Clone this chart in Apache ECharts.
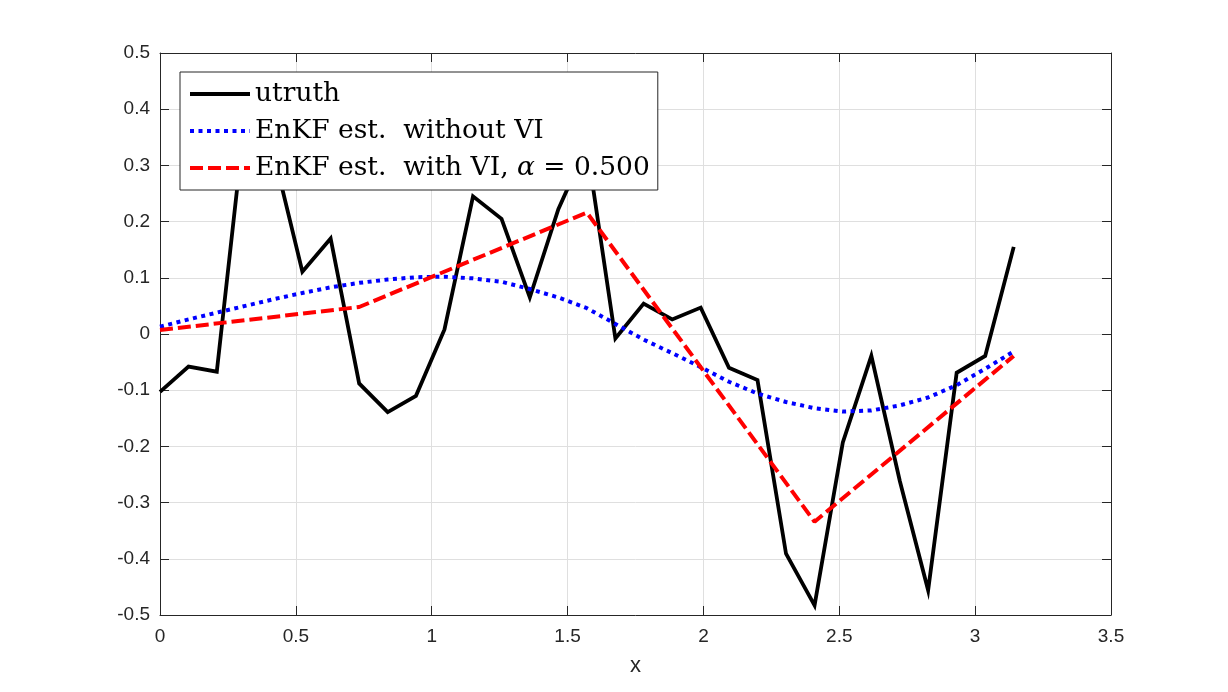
<!DOCTYPE html>
<html>
<head>
<meta charset="utf-8">
<script src="https://cdn.jsdelivr.net/npm/echarts@6/dist/echarts.min.js"></script>
<style>
html,body{margin:0;padding:0;background:#fff;}
#chart{width:1228px;height:692px;}
</style>
</head>
<body>
<div id="chart"></div>
<script>
// x grid (k*pi/30)
const xs = [0,0.105,0.209,0.314,0.419,0.524,0.628,0.733,0.838,0.942,1.047,1.152,1.257,1.361,1.466,1.571,1.676,1.780,1.885,1.990,2.094,2.199,2.304,2.409,2.513,2.618,2.723,2.827,2.932,3.037,3.142];
const utruth = [-0.103,-0.058,-0.067,0.39,0.32,0.111,0.170,-0.088,-0.139,-0.110,0.008,0.245,0.205,0.065,0.222,0.335,-0.008,0.054,0.026,0.047,-0.060,-0.082,-0.391,-0.483,-0.193,-0.039,-0.262,-0.456,-0.069,-0.039,0.155];
const enkfNoVI = [0.013,0.026,0.038,0.050,0.062,0.073,0.083,0.091,0.097,0.101,0.102,0.099,0.093,0.080,0.065,0.046,0.018,-0.010,-0.034,-0.059,-0.085,-0.106,-0.121,-0.132,-0.138,-0.136,-0.127,-0.113,-0.091,-0.062,-0.031];
const enkfVIx = [0,0.733,1.571,2.409,3.142];
const enkfVI = [0.007,0.048,0.216,-0.334,-0.039];
const seriesNames = ['utruth','EnKF est. without VI','EnKF est. with VI, α = 0.500'];
const xTicks = {min:0, max:3.5, interval:0.5};
const yTicks = {min:-0.5, max:0.5, interval:0.1};

const pair = (a,b)=>a.map((v,i)=>[v,b[i]]);
const axisColor = '#262626';
const tickFont = {color:axisColor, fontFamily:'Liberation Sans, Arial, Helvetica', fontSize:19};
const fmt = v => String(Math.round(v*10)/10);

const chart = echarts.init(document.getElementById('chart'), null, {renderer:'canvas'});
chart.setOption({
  backgroundColor:'#fff',
  animation:false,
  grid:{left:160, right:117, top:53, bottom:77, containLabel:false},
  xAxis:[
    {type:'value', min:xTicks.min, max:xTicks.max, interval:xTicks.interval, position:'bottom',
     name:'x', nameLocation:'middle', nameGap:40,
     nameTextStyle:{color:axisColor, fontFamily:'Liberation Sans, Arial', fontSize:22},
     axisLine:{show:true, onZero:false, lineStyle:{color:axisColor, width:1}},
     axisTick:{show:true, inside:true, length:9, lineStyle:{color:axisColor}},
     axisLabel:Object.assign({margin:12, formatter:fmt}, tickFont),
     splitLine:{show:true, lineStyle:{color:'#dfdfdf', width:1}}},
    {type:'value', min:xTicks.min, max:xTicks.max, interval:xTicks.interval, position:'top',
     axisLine:{show:true, onZero:false, lineStyle:{color:axisColor, width:1}},
     axisTick:{show:true, inside:true, length:9, lineStyle:{color:axisColor}},
     axisLabel:{show:false}, splitLine:{show:false}}
  ],
  yAxis:[
    {type:'value', min:yTicks.min, max:yTicks.max, interval:yTicks.interval, position:'left',
     axisLine:{show:true, onZero:false, lineStyle:{color:axisColor, width:1}},
     axisTick:{show:true, inside:true, length:9, lineStyle:{color:axisColor}},
     axisLabel:Object.assign({margin:10, formatter:fmt}, tickFont),
     splitLine:{show:true, lineStyle:{color:'#dfdfdf', width:1}}},
    {type:'value', min:yTicks.min, max:yTicks.max, interval:yTicks.interval, position:'right',
     axisLine:{show:true, onZero:false, lineStyle:{color:axisColor, width:1}},
     axisTick:{show:true, inside:true, length:9, lineStyle:{color:axisColor}},
     axisLabel:{show:false}, splitLine:{show:false}}
  ],
  legend:{
    orient:'vertical', left:180, top:72,
    padding:[7,8,7,8], itemGap:7, itemWidth:60, itemHeight:14,
    itemStyle:{opacity:0},
    lineStyle:{width:4},
    backgroundColor:'#fff', borderColor:'#262626', borderWidth:1,
    data:seriesNames,
    formatter:function(name){
      if(name===seriesNames[2]) return '{n|EnKF est.  with VI, }{i|α}{n| = 0.500}';
      if(name===seriesNames[1]) return '{n|EnKF est.  without VI}';
      return '{n|'+name+'}';
    },
    textStyle:{
      color:'#000', fontFamily:'DejaVu Serif', fontSize:26.5, lineHeight:30,
      rich:{
        n:{fontFamily:'DejaVu Serif', fontSize:26.5, lineHeight:30, color:'#000'},
        i:{fontFamily:'DejaVu Serif', fontSize:26.5, lineHeight:30, fontStyle:'italic', color:'#000'}
      }
    }
  },
  series:[
    {name:seriesNames[0], type:'line', data:pair(xs,utruth), showSymbol:false, symbol:'none',
     lineStyle:{color:'#000', width:3.8, join:'miter'}, itemStyle:{color:'#000'}},
    {name:seriesNames[1], type:'line', data:pair(xs,enkfNoVI), showSymbol:false, symbol:'none',
     lineStyle:{color:'#0000ff', width:4, type:[4,4.5]}, itemStyle:{color:'#0000ff'}},
    {name:seriesNames[2], type:'line', data:pair(enkfVIx,enkfVI), showSymbol:false, symbol:'none',
     lineStyle:{color:'#ff0000', width:4, type:[13,5]}, itemStyle:{color:'#ff0000'}}
  ]
});
</script>
</body>
</html>
